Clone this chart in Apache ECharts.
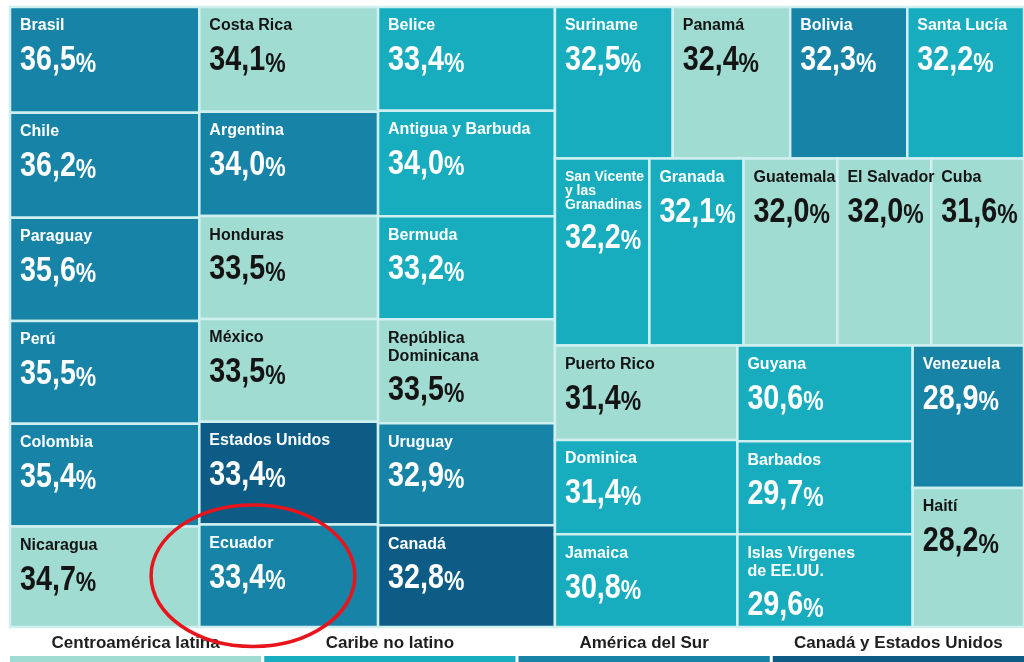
<!DOCTYPE html>
<html><head><meta charset="utf-8">
<script src="https://cdn.jsdelivr.net/npm/echarts@6/dist/echarts.min.js"></script>
<style>html,body{margin:0;padding:0;background:#fff}#c{width:1024px;height:662px}</style>
</head><body><div id="c"></div>
<script>
// ---- data ----
const countries = ['Brasil','Chile','Paraguay','Perú','Colombia','Nicaragua',
  'Costa Rica','Argentina','Honduras','México','Estados Unidos','Ecuador',
  'Belice','Antigua y Barbuda','Bermuda','República\nDominicana','Uruguay','Canadá',
  'Suriname','Panamá','Bolivia','Santa Lucía',
  'San Vicente\ny las\nGranadinas','Granada','Guatemala','El Salvador','Cuba',
  'Puerto Rico','Dominica','Jamaica',
  'Guyana','Barbados','Islas Vírgenes\nde EE.UU.',
  'Venezuela','Haití'];
const values = [36.5,36.2,35.6,35.5,35.4,34.7,
  34.1,34.0,33.5,33.5,33.4,33.4,
  33.4,34.0,33.2,33.5,32.9,32.8,
  32.5,32.4,32.3,32.2,
  32.2,32.1,32.0,32.0,31.6,
  31.4,31.4,30.8,
  30.6,29.7,29.6,
  28.9,28.2];
// 0 Centroamérica latina, 1 Caribe no latino, 2 América del Sur, 3 Canadá y EE.UU.
const regionOfCountry = [2,2,2,2,2,0,
  0,2,0,0,3,2,
  1,1,1,0,2,3,
  1,0,2,1,
  1,1,0,0,0,
  0,1,1,
  1,1,1,
  2,0];
const regionNames = ['Centroamérica latina','Caribe no latino','América del Sur','Canadá y Estados Unidos'];
const highlighted = ['Ecuador'];

// hierarchy of the slice-and-dice treemap (leaf counts taken in order)
const layoutTree = {dir:'x', children:[
  {dir:'x', children:[{dir:'y', n:6},{dir:'y', n:6},{dir:'y', n:6}]},
  {dir:'y', children:[{dir:'x', n:4},{dir:'x', n:5},
    {dir:'x', children:[{dir:'y', n:3},{dir:'y', n:3},{dir:'y', n:2}]}]}
]};

// ---- styles ----
const regionColors = ['#a0dcd2','#17adbf','#1783a6','#0c5c86'];
const regionTextColors = ['#141414','#ffffff','#ffffff','#ffffff'];
const nameFont = '"Liberation Sans", Arial, sans-serif';
const numFont = '"Liberation Sans", Arial, sans-serif';

// ---- slice-and-dice layout in unit square ----
let cursor = 0;
function build(node){
  if (node.n){ node.items = []; for (let k=0;k<node.n;k++) node.items.push(cursor++); node.sum = node.items.reduce((s,i)=>s+values[i],0); }
  else { node.children.forEach(build); node.sum = node.children.reduce((s,c)=>s+c.sum,0); }
}
build(layoutTree);
const rects = [];
function place(node,x0,y0,x1,y1){
  const parts = node.items ? node.items.map(i=>({v:values[i], leaf:i})) : node.children.map(c=>({v:c.sum, node:c}));
  let acc = 0;
  parts.forEach(p=>{
    const f0 = acc/node.sum; acc += p.v; const f1 = acc/node.sum;
    let r;
    if (node.dir==='x') r=[x0+(x1-x0)*f0, y0, x0+(x1-x0)*f1, y1];
    else r=[x0, y0+(y1-y0)*f0, x1, y0+(y1-y0)*f1];
    if (p.node) place(p.node, r[0],r[1],r[2],r[3]); else rects[p.leaf]=r;
  });
}
place(layoutTree,0,0,1,1);

function fmt(v){ return v.toFixed(1).replace('.', ','); }

const chart = echarts.init(document.getElementById('c'), null, {renderer:'canvas'});

function renderItem(params, api){
  const i = params.dataIndex;
  const r = rects[i];
  const p0 = api.coord([r[0], r[1]]);
  const p1 = api.coord([r[2], r[3]]);
  const x = p0[0], y = p0[1], w = p1[0]-p0[0], h = p1[1]-p0[1];
  const reg = regionOfCountry[i];
  const col = regionTextColors[reg];
  const name = countries[i];
  const lines = name.split('\n').length;
  const fs = lines>2 ? 14 : 16;
  const lh = lines>2 ? 14 : 18;
  const nameTop = y + (lines>2 ? 12 : 10);
  const nameH = lines===1 ? 18 : lines*lh;
  const children = [
    {type:'rect', shape:{x:x, y:y, width:w, height:h},
     style:{fill:regionColors[reg], stroke:'#cfeff1', lineWidth:2.5}},
    {type:'text', x:x+10, y:nameTop, z2:5,
     style:{text:name, fill:col, font:'bold '+fs+'px '+nameFont, lineHeight:lh, verticalAlign:'top', align:'left'}},
    {type:'text', x:x+10, y:nameTop+nameH+3, scaleX:0.82, z2:5,
     style:{
       text:'{v|'+fmt(api.value(1))+'}{p|%}',
       fill:col, verticalAlign:'top', align:'left',
       rich:{
         v:{fontFamily:numFont, fontWeight:'bold', fontSize:35, lineHeight:40, verticalAlign:'bottom', fill:col},
         p:{fontFamily:numFont, fontWeight:'bold', fontSize:28, lineHeight:35, verticalAlign:'bottom', fill:col}
       }
     }}
  ];
  if (highlighted.indexOf(name)>=0){
    children.push({type:'ellipse', z2:100,
      shape:{cx:x+w*0.3, cy:y+h*0.5, rx:w*0.57, ry:h*0.69},
      style:{fill:'none', stroke:'#e8141c', lineWidth:3.5}});
  }
  return {type:'group', children:children};
}

// legend built from region names
const W = 1024, legLeft = 10, legGap = 3;
const legW = (W - legLeft - legGap*3)/4;
const legendEls = [];
regionNames.forEach((nm,k)=>{
  const x0 = legLeft + k*(legW+legGap);
  legendEls.push({type:'rect', left:x0, top:656, shape:{width:legW, height:12}, style:{fill:regionColors[k]}});
  legendEls.push({type:'text', x:x0+legW/2, y:643, style:{text:nm, fill:'#1e1e1e', font:'bold 17px '+nameFont, align:'center', verticalAlign:'middle'}});
});

chart.setOption({
  backgroundColor:'#ffffff',
  animation:false,
  grid:{left:10, right:0, top:7, bottom:35},
  xAxis:{type:'value', min:0, max:1, show:false},
  yAxis:{type:'value', min:0, max:1, inverse:true, show:false},
  graphic:{elements:legendEls},
  series:[{
    type:'custom', coordinateSystem:'cartesian2d', clip:false, z:3,
    renderItem:renderItem,
    encode:{x:0, y:1},
    data: values.map((v,i)=>({name:countries[i], value:[0, v]}))
  }]
});
</script></body></html>
